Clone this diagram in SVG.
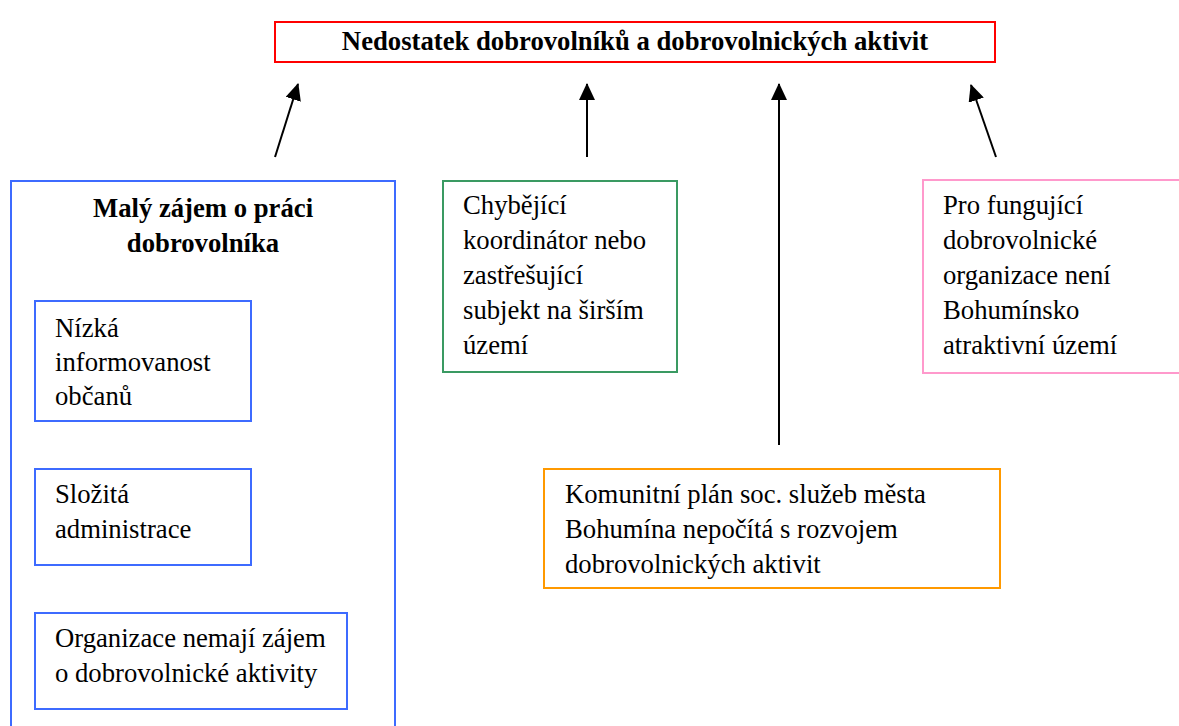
<svg xmlns="http://www.w3.org/2000/svg" width="1179" height="726" viewBox="0 0 1179 726">
<style>
  text { font-family: 'Liberation Serif', 'Times New Roman', Tinos, 'DejaVu Serif', serif; font-size: 26.7px; fill: #000; }
  .b { font-weight: bold; }
  .box { fill: #fff; stroke-width: 2; }
  .red { stroke: #ff0000; }
  .blue { stroke: #3d6bff; }
  .green { stroke: #3a9a62; }
  .orange { stroke: #ff9900; }
  .pink { stroke: #ff99cc; }
</style>
<defs>
  <marker id="ah" markerWidth="17" markerHeight="16" refX="16" refY="8" orient="auto" markerUnits="userSpaceOnUse" viewBox="0 0 17 16">
    <path d="M0,0 L17,8 L0,16 z" fill="#000"/>
  </marker>
</defs>
<rect width="1179" height="726" fill="#fff"/>

<g id="connectors">
  <line x1="275" y1="157" x2="298" y2="84" stroke="#000" stroke-width="2" marker-end="url(#ah)"/>
  <line x1="587" y1="157" x2="587" y2="84" stroke="#000" stroke-width="2" marker-end="url(#ah)"/>
  <line x1="779" y1="445" x2="779" y2="84" stroke="#000" stroke-width="2" marker-end="url(#ah)"/>
  <line x1="996" y1="157" x2="971" y2="85" stroke="#000" stroke-width="2" marker-end="url(#ah)"/>
</g>

<g id="n-title">
  <rect class="box red" x="275" y="22" width="720" height="40"/>
  <text class="b" x="635" y="50" text-anchor="middle">Nedostatek dobrovolníků a dobrovolnických aktivit</text>
</g>

<g id="n-maly">
  <rect class="box blue" x="11" y="181" width="384" height="560"/>
  <text class="b" x="203" y="217" text-anchor="middle">Malý zájem o práci</text>
  <text class="b" x="203" y="252" text-anchor="middle">dobrovolníka</text>
</g>

<g id="n-nizka">
  <rect class="box blue" x="35" y="301" width="216" height="120"/>
  <text x="55" y="337">Nízká</text>
  <text x="55" y="371">informovanost</text>
  <text x="55" y="405">občanů</text>
</g>

<g id="n-slozita">
  <rect class="box blue" x="35" y="469" width="216" height="96"/>
  <text x="55" y="503">Složitá</text>
  <text x="55" y="538">administrace</text>
</g>

<g id="n-organizace">
  <rect class="box blue" x="35" y="613" width="312" height="96"/>
  <text x="55" y="647">Organizace nemají zájem</text>
  <text x="55" y="682">o dobrovolnické aktivity</text>
</g>

<g id="n-chybejici">
  <rect class="box green" x="443" y="181" width="234" height="191"/>
  <text x="463" y="214">Chybějící</text>
  <text x="463" y="249">koordinátor nebo</text>
  <text x="463" y="284">zastřešující</text>
  <text x="463" y="319">subjekt na širším</text>
  <text x="463" y="354">území</text>
</g>

<g id="n-pro">
  <rect class="box pink" x="923" y="180" width="270" height="193"/>
  <text x="943" y="214">Pro fungující</text>
  <text x="943" y="249">dobrovolnické</text>
  <text x="943" y="284">organizace není</text>
  <text x="943" y="319">Bohumínsko</text>
  <text x="943" y="354">atraktivní území</text>
</g>

<g id="n-komunitni">
  <rect class="box orange" x="544" y="469" width="456" height="119"/>
  <text x="565" y="503">Komunitní plán soc. služeb města</text>
  <text x="565" y="538">Bohumína nepočítá s rozvojem</text>
  <text x="565" y="573">dobrovolnických aktivit</text>
</g>
</svg>
